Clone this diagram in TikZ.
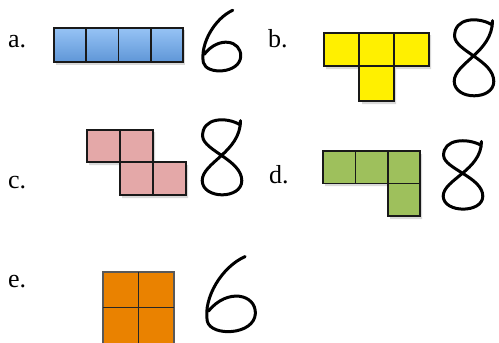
\documentclass[tikz,border=0pt]{standalone}
\usepackage{fontspec}
\setmainfont{Liberation Serif}
\begin{document}
\definecolor{blueA}{RGB}{150,195,245}
\definecolor{blueB}{RGB}{95,150,215}
\definecolor{yel}{RGB}{255,240,0}
\definecolor{pink}{RGB}{228,168,168}
\definecolor{grn}{RGB}{158,192,92}
\definecolor{org}{RGB}{234,130,0}
\tikzset{
  cell/.style={draw=black!90, line width=1.8pt, line join=miter},
  shd/.style={fill=black, opacity=0.15},
  lbl/.style={anchor=base west, inner sep=0pt, font=\fontsize{26}{30}\selectfont},
  hand/.style={line width=3pt, line cap=round, line join=round},
  six/.pic={\draw[hand] (0.78,0.02) .. controls (0.35,0.15) and (0.0,0.55) .. (0.08,0.85)
      .. controls (0.15,1.05) and (0.95,1.03) .. (0.97,0.75)
      .. controls (0.98,0.5) and (0.45,0.42) .. (0.1,0.72);},
  eight/.pic={\draw[hand] (0.9,0.07) .. controls (0.6,-0.03) and (0.04,-0.02) .. (0.06,0.22)
      .. controls (0.08,0.4) and (0.95,0.52) .. (0.95,0.78)
      .. controls (0.95,1.02) and (0.06,1.02) .. (0.05,0.78)
      .. controls (0.05,0.55) and (0.92,0.42) .. (0.92,0.02);}
}
\begin{tikzpicture}[x=1pt,y=-1pt]
\useasboundingbox (0,0) rectangle (499,343);
% labels
\node[lbl] (la) at (8,47) {a.};
\node[lbl] (lb) at (268,47) {b.};
\node[lbl] (lc) at (8,188) {c.};
\node[lbl] (ld) at (269,183) {d.};
\node[lbl] (le) at (8,287) {e.};
% a: blue I
\fill[shd] (56,30) rectangle (185,65);
\shade[top color=blueA, bottom color=blueB] (54,28) rectangle (183,62);
\draw[cell] (54,28) rectangle (183,62);
\draw[cell] (86.25,28) -- (86.25,62) (118.5,28) -- (118.5,62) (150.75,28) -- (150.75,62);
% b: yellow T
\fill[shd] (326,35) rectangle (431,69) (362,69) rectangle (396,104);
\fill[yel] (324,33) rectangle (429,66) (359,66) rectangle (394,101);
\draw[cell] (324,33) -- (429,33) -- (429,66) -- (394,66) -- (394,101) -- (359,101) -- (359,66) -- (324,66) -- cycle;
\draw[cell] (359,33) -- (359,66) -- (394,66) -- (394,33);
% c: pink S
\fill[shd] (89,132) rectangle (155,165) (122,165) rectangle (188,198);
\fill[pink] (87,130) rectangle (153,162) (120,162) rectangle (186,195);
\draw[cell] (87,130) -- (153,130) -- (153,162) -- (186,162) -- (186,195) -- (120,195) -- (120,162) -- (87,162) -- cycle;
\draw[cell] (120,130) -- (120,162) -- (153,162) -- (153,195);
% d: green L
\fill[shd] (325,154) rectangle (422,186) (390,186) rectangle (422,219);
\fill[grn] (323,151) rectangle (420,183.5) (388,183.5) rectangle (420,216);
\draw[cell] (323,151) -- (420,151) -- (420,216) -- (388,216) -- (388,183.5) -- (323,183.5) -- cycle;
\draw[cell] (355.5,151) -- (355.5,183.5) (388,151) -- (388,183.5) -- (420,183.5);
% e: orange O
\fill[org] (103,272) rectangle (174,343);
\draw[cell, draw=black!65, line width=1.4pt] (103,343) -- (103,272) -- (174,272) -- (174,343);
\draw[cell, draw=black!85] (138.5,272) -- (138.5,343) (103,307.5) -- (174,307.5);
% handwritten numbers
\pic[xscale=42, yscale=63] at (200,9) {six};
\pic[xscale=44, yscale=80] at (452,19) {eight};
\pic[xscale=44, yscale=79] at (200,119) {eight};
\pic[xscale=44, yscale=72] at (441,140) {eight};
\pic[xscale=54, yscale=78] at (203,255) {six};
\end{tikzpicture}
\end{document}
